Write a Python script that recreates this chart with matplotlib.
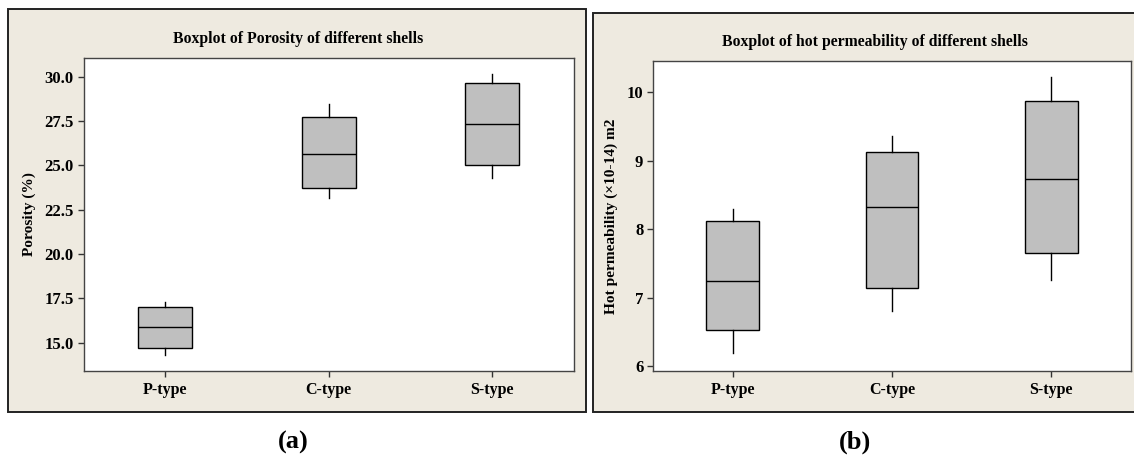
import matplotlib
matplotlib.use("Agg")
import matplotlib.pyplot as plt
from matplotlib.patches import Rectangle

plt.rcParams['font.family'] = ['Liberation Serif', 'DejaVu Serif']
plt.rcParams['font.weight'] = 'bold'

shells = ['P-type', 'C-type', 'S-type']

# five-number summaries per shell: whisker low, Q1, median, Q3, whisker high
porosity_lo = [14.30, 23.15, 24.28]
porosity_q1 = [14.68, 23.72, 25.02]
porosity_med = [15.87, 25.66, 27.34]
porosity_q3 = [17.02, 27.75, 29.66]
porosity_hi = [17.30, 28.47, 30.13]

perm_lo = [6.20, 6.81, 7.26]
perm_q1 = [6.53, 7.14, 7.66]
perm_med = [7.25, 8.32, 8.73]
perm_q3 = [8.12, 9.13, 9.87]
perm_hi = [8.29, 9.36, 10.22]

W, H = 1134, 459
BEIGE = '#eeeae0'
fig = plt.figure(figsize=(W / 100, H / 100), dpi=100)
fig.patch.set_facecolor('white')


def px(x0, y0, x1, y1):
    # pixel box (top-left origin) -> figure fraction rect
    return [x0 / W, 1 - y1 / H, (x1 - x0) / W, (y1 - y0) / H]


def frame(x0, y0, x1, y1):
    l, b, w, h = px(x0, y0, x1, y1)
    fig.patches.append(Rectangle((l, b), w, h, transform=fig.transFigure,
                                 facecolor=BEIGE, edgecolor='#222222',
                                 linewidth=1.4, zorder=-1))


def panel(rect, lo, q1, med, q3, hi, ylim, yticks, fmt, title, title_x, title_y, ylabel):
    ax = fig.add_axes(rect)
    stats = [dict(whislo=a, q1=b, med=c, q3=d, whishi=e, label=n)
             for a, b, c, d, e, n in zip(lo, q1, med, q3, hi, shells)]
    ax.bxp(stats, positions=[1, 2, 3], widths=0.33, showfliers=False,
           showcaps=False, patch_artist=True,
           boxprops=dict(facecolor='#bfbfbf', edgecolor='black', linewidth=1.0),
           medianprops=dict(color='black', linewidth=1.0),
           whiskerprops=dict(color='black', linewidth=1.0))
    ax.set_xlim(0.5, 3.5)
    ax.set_ylim(*ylim)
    ax.set_yticks(yticks)
    ax.set_yticklabels([fmt.format(v) for v in yticks])
    ax.set_facecolor('white')
    for s in ax.spines.values():
        s.set_color('#444444')
        s.set_linewidth(1.0)
    ax.tick_params(axis='both', direction='out', length=4, width=1,
                   color='#333333', pad=3)
    ax.tick_params(axis='y', labelsize=12)
    ax.tick_params(axis='x', labelsize=11.5, pad=4)
    ax.set_ylabel(ylabel, fontsize=11.1, fontweight='bold', labelpad=6)
    fig.text(title_x / W, 1 - title_y / H, title, ha='center', va='center',
             fontsize=11.3, fontweight='bold')
    return ax


frame(8, 9, 586, 412)
frame(593, 13, 1160, 412)

panel(px(83.5, 58, 574, 371), porosity_lo, porosity_q1, porosity_med,
      porosity_q3, porosity_hi, (13.40, 31.06), [15, 17.5, 20, 22.5, 25, 27.5, 30],
      '{:.1f}', 'Boxplot of Porosity of different shells', 298, 39, 'Porosity (%)')

panel(px(653, 61, 1131, 371), perm_lo, perm_q1, perm_med, perm_q3, perm_hi,
      (5.93, 10.46), [6, 7, 8, 9, 10], '{:.0f}',
      'Boxplot of hot permeability of different shells', 875, 42,
      'Hot permeability (\u00d710-14) m2')

fig.text(293 / W, 1 - 442 / H, '(a)', ha='center', va='center',
         fontsize=19, fontweight='bold')
fig.text(855 / W, 1 - 442 / H, '(b)', ha='center', va='center',
         fontsize=19, fontweight='bold')

fig.savefig('out.png', dpi=100, facecolor='white')
